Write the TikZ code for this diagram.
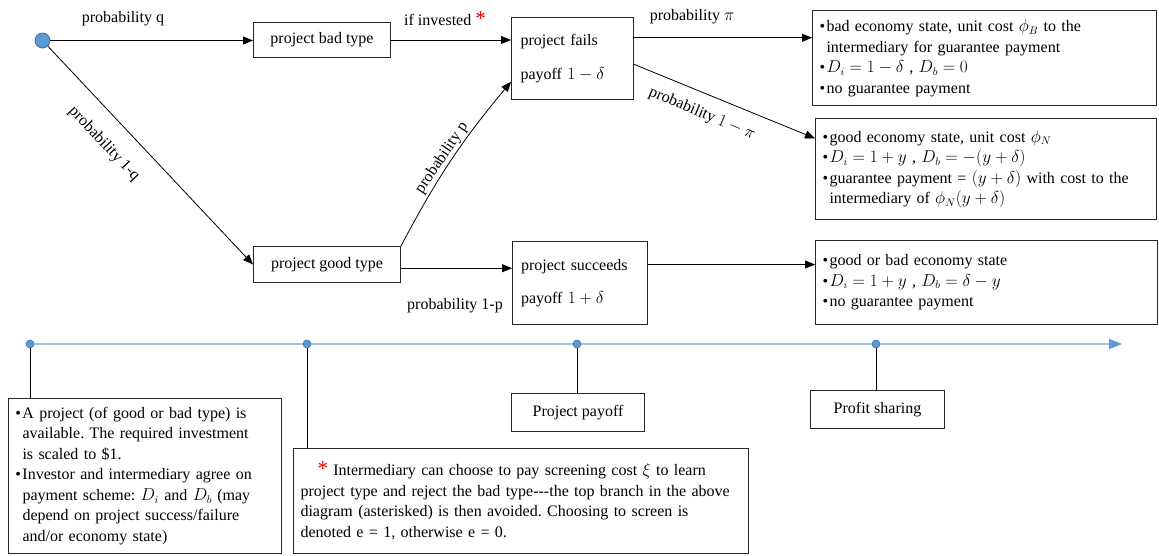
\documentclass[tikz,border=0pt]{standalone}
\usepackage{fontspec}
\setmainfont{Liberation Serif}
\usetikzlibrary{arrows.meta,calc}
\definecolor{nodeblue}{HTML}{5B9BD5}
\definecolor{nodeedge}{HTML}{41719C}
\definecolor{tline}{HTML}{9DC3E6}
\definecolor{astred}{HTML}{E00000}
\newcommand{\bu}{\makebox[7pt][l]{\textbullet}}
\newcommand{\hi}{\hspace*{7pt}}
\frenchspacing
\begin{document}
\begin{tikzpicture}[x=1pt,y=-1pt,
  font=\fontsize{16}{20.5}\selectfont,
  box/.style={draw=black!85, line width=1pt, anchor=north west, inner sep=0pt, align=center},
  infobox/.style={draw=black!85, line width=1pt, anchor=north west, inner xsep=7pt, inner ysep=0pt, align=left},
  arr/.style={-{Triangle[length=10pt,width=8pt]}, line width=0.8pt},
  vline/.style={line width=0.8pt},
  lbl/.style={inner sep=0pt},
  dot/.style={circle, fill=nodeblue, draw=nodeedge, line width=0.6pt, minimum size=8pt, inner sep=0pt},
  tlarrow/.style={draw=tline, line width=1.3pt, -{Triangle[length=13pt,width=10pt,color=nodeblue]}}]

\useasboundingbox (0,0) rectangle (1159,555);

% tree nodes
\node[circle, fill=nodeblue, draw=nodeedge, line width=0.8pt, minimum width=15pt, inner sep=0pt] (start) at (42.5,40.5) {};
\node[box, minimum width=137pt, minimum height=35pt] (bad) at (253,22) {project bad type};
\node[box, minimum width=147pt, minimum height=36pt] (good) at (253,246) {project good type};
\node[box, minimum width=122pt, minimum height=82pt, text width=104pt, align=left] (fails) at (511,17) {project fails\\[13pt]payoff $1-\delta$};
\node[box, minimum width=135pt, minimum height=83pt, text width=118pt, align=left] (succ) at (512,241) {\mbox{project succeeds}\\[13pt]payoff $1+\delta$};

\node[infobox, text width=330pt, minimum height=95pt] (tr1) at (812,10) {%
\bu bad economy state, unit cost $\phi_B$ to the\\
\hi intermediary for guarantee payment\\
\bu $D_i = 1-\delta$ , $D_b = 0$\\
\bu no guarantee payment};
\node[infobox, text width=327pt, minimum height=101pt] (tr2) at (815,118) {%
\bu good economy state, unit cost $\phi_N$\\
\bu $D_i = 1+y$ , $D_b = -(y+\delta)$\\
\bu guarantee payment = $(y+\delta)$ with cost to the\\
\hi intermediary of $\phi_N(y+\delta)$};
\node[infobox, text width=328pt, minimum height=84pt] (tr3) at (815,240) {%
\bu good or bad economy state\\
\bu $D_i = 1+y$ , $D_b = \delta-y$\\
\bu no guarantee payment};

% connectors of the tree
\draw[arr] (start.east) -- (start.east -| bad.west);
\draw[arr] (bad.east) -- (bad.east -| fails.west);
\draw[arr] ($(fails.north east)!0.25!(fails.south east)$) coordinate (f1) -- (f1 -| tr1.west);
\draw[arr] ($(fails.north east)!0.57!(fails.south east)$) -- ($(tr2.north west)!0.2!(tr2.south west)$);
\draw[arr] (start) -- (good.west);
\draw[arr] (good.north east) to[bend left=6] ($(fails.north west)!0.78!(fails.south west)$);
\draw[arr] ($(good.north east)!0.6!(good.south east)$) coordinate (g1) -- (g1 -| succ.west);
\draw[arr] ($(succ.north east)!0.28!(succ.south east)$) coordinate (s1) -- (s1 -| tr3.west);

% labels
\node[lbl] (lq) at (123,19) {probability q};
\node[lbl, anchor=west] (linv) at (404,19) {if invested \textcolor{astred}{\fontsize{21}{21}\selectfont *}};
\node[lbl] (lpi) at (692,17) {probability $\pi$};
\node[lbl, rotate=-22.8] (lnpi) at (702,114) {probability $1-\pi$};
\node[lbl, rotate=-46.7] (lnq) at (104,144) {probability 1-q};
\node[lbl, rotate=56] (lp) at (442,158) {probability p};
\node[lbl] (lnp) at (455,306) {probability 1-p};

% timeline
\coordinate (tla) at (30,344);
\coordinate (tlb) at (1122,344);
\draw[tlarrow] (tla) -- (tlb);
\node[dot] (t1) at (30,344) {};
\node[dot] (t2) at (307,344) {};
\node[dot] (t3) at (577,344) {};
\node[dot] (t4) at (876,344) {};

\node[infobox, text width=259pt, minimum height=155pt] (bl) at (8,398) {%
\bu A project (of good or bad type) is\\
\hi available. The required investment\\
\hi is scaled to \$1.\\
\bu Investor and intermediary agree on\\
\hi payment scheme: $D_i$ and $D_b$ (may\\
\hi depend on project success/failure\\
\hi and/or economy state)};
\node[infobox, text width=441pt, minimum height=105pt] (ast) at (293,448) {%
\hspace*{17pt}\textcolor{astred}{\fontsize{21}{21}\selectfont *} Intermediary can choose to pay screening cost $\xi$ to learn\\
project type and reject the bad type-{}-{}-the top branch in the above\\
diagram (asterisked) is then avoided. Choosing to screen is\\
denoted e = 1, otherwise e = 0.};
\node[box, minimum width=133pt, minimum height=38pt] (payoff) at (511,393) {Project payoff};
\node[box, minimum width=134pt, minimum height=38pt] (profit) at (810,390) {Profit sharing};

\draw[vline] (t1.south) -- (t1 |- bl.north);
\draw[vline] (t2.south) -- (t2 |- ast.north);
\draw[vline] (t3.south) -- (t3 |- payoff.north);
\draw[vline] (t4.south) -- (t4 |- profit.north);
\end{tikzpicture}
\end{document}
